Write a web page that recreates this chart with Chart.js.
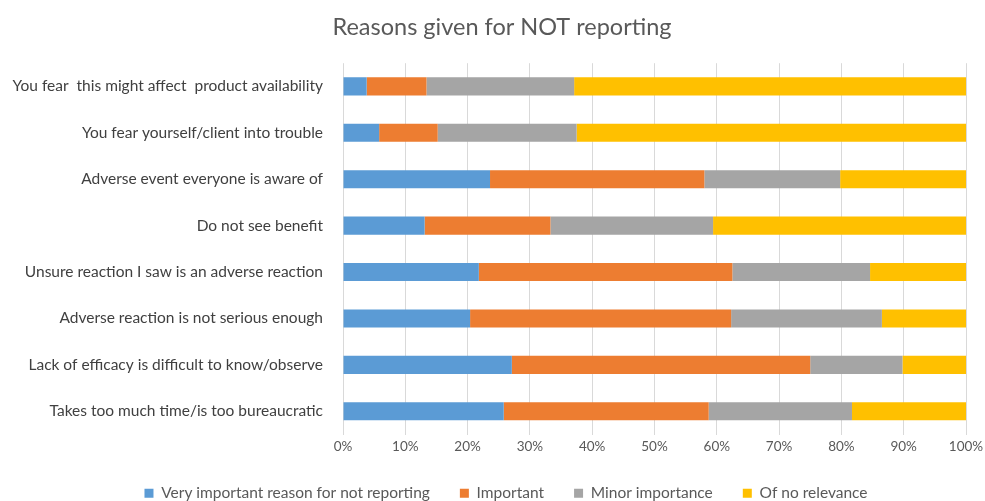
<!DOCTYPE html>
<html>
<head>
<meta charset="utf-8">
<script src="https://cdn.jsdelivr.net/npm/chart.js@4.4.1/dist/chart.umd.min.js"></script>
<style>
  html, body { margin: 0; padding: 0; background: #ffffff; }
  #wrap { width: 985px; height: 501px; }
</style>
</head>
<body>
<div id="wrap"><canvas id="c" width="985" height="501"></canvas></div>
<script>
const titleText = 'Reasons given for NOT reporting';
const categories = [
  'You fear  this might affect  product availability',
  'You fear yourself/client into trouble',
  'Adverse event everyone is aware of',
  'Do not see benefit',
  'Unsure reaction I saw is an adverse reaction',
  'Adverse reaction is not serious enough',
  'Lack of efficacy is difficult to know/observe',
  'Takes too much time/is too bureaucratic'
];
const seriesNames = ['Very important reason for not reporting', 'Important', 'Minor importance', 'Of no relevance'];
const veryImportant = [3.8, 5.8, 23.6, 13.1, 21.8, 20.4, 27.1, 25.8];
const important     = [9.6, 9.4, 34.4, 20.2, 40.7, 41.9, 47.9, 32.9];
const minorImp      = [23.7, 22.3, 21.8, 26.1, 22.1, 24.2, 14.8, 23.0];
const noRelevance   = [62.9, 62.5, 20.2, 40.6, 15.4, 13.5, 10.2, 18.3];
const xTicks = [0, 10, 20, 30, 40, 50, 60, 70, 80, 90, 100];

const colors = ['#5B9BD5', '#ED7D31', '#A5A5A5', '#FFC000'];
const values = [veryImportant, important, minorImp, noRelevance];

const FONT = 'Lato, "Open Sans", sans-serif';

// shift the title and legend boxes horizontally (centred like the reference)
const shiftBoxes = {
  id: 'shiftBoxes',
  afterLayout(chart) {
    if (chart.titleBlock) { chart.titleBlock.left += 19; chart.titleBlock.right += 19; }
    if (chart.legend) { chart.legend.left += 23; chart.legend.right += 23; }
  }
};

new Chart(document.getElementById('c'), {
  type: 'bar',
  data: {
    labels: categories,
    datasets: seriesNames.map((name, i) => ({
      label: name,
      data: values[i],
      backgroundColor: colors[i],
      borderWidth: 0,
      barPercentage: 0.39,
      categoryPercentage: 1.0
    }))
  },
  plugins: [shiftBoxes],
  options: {
    indexAxis: 'y',
    responsive: false,
    animation: false,
    devicePixelRatio: 1,
    layout: { padding: { left: 0, right: 19, top: 0, bottom: -10 } },
    plugins: {
      title: {
        display: true,
        text: titleText,
        color: '#595959',
        font: { family: FONT, size: 23.5, weight: 'normal' },
        padding: { top: 13, bottom: 22 }
      },
      legend: {
        position: 'bottom',
        labels: {
          color: '#595959',
          font: { family: FONT, size: 15.5 },
          boxWidth: 9,
          boxHeight: 9,
          padding: 30
        }
      },
      tooltip: { enabled: false }
    },
    scales: {
      x: {
        stacked: true,
        min: 0,
        max: 100,
        afterBuildTicks: (scale) => { scale.ticks = xTicks.map(v => ({ value: v })); },
        afterFit: (scale) => { scale.height = 21; scale.paddingRight = 0; scale.paddingLeft = 0; },
        ticks: {
          color: '#595959',
          font: { family: FONT, size: 13.5 },
          padding: 4,
          callback: (v) => v + '%'
        },
        grid: { color: '#D9D9D9', lineWidth: 1, drawTicks: false },
        border: { display: false }
      },
      y: {
        stacked: true,
        afterFit: (scale) => { scale.width = 343; },
        ticks: {
          color: '#404040',
          font: { family: FONT, size: 15.5 },
          padding: 20
        },
        grid: { display: false, drawTicks: false },
        border: { display: false }
      }
    }
  }
});
</script>
</body>
</html>
